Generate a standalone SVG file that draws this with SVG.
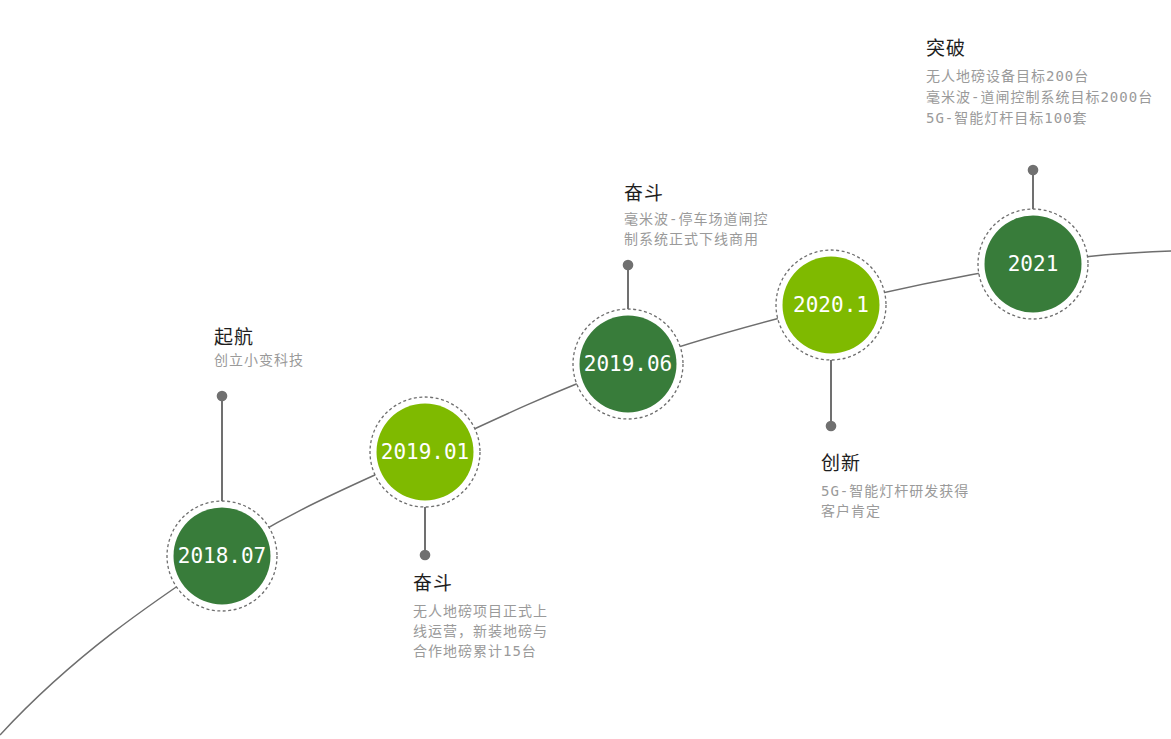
<svg xmlns="http://www.w3.org/2000/svg" width="1171" height="739" viewBox="0 0 1171 739">
<style>
.curve{fill:none;stroke:#6e6e6e;stroke-width:1.5}
.stem{stroke:#707070;stroke-width:2}
.dot{fill:#707070}
.ring{fill:#fff;stroke:#6e6e6e;stroke-width:1.3;stroke-dasharray:3 2.5}
.dark{fill:#387c3a}
.light{fill:#7fba00}
.lbl{font-family:"DejaVu Sans Mono","Liberation Mono",monospace;font-size:21px;fill:#fff;text-anchor:middle}
.ttl{font-family:"DejaVu Sans Mono","Noto Sans CJK SC",sans-serif;font-size:19px;fill:#1e1e1e;letter-spacing:1px}
.txt{font-family:"DejaVu Sans Mono","Noto Sans CJK SC",sans-serif;font-size:14px;fill:#9a9a9a;letter-spacing:1px}
</style>
<rect width="1171" height="739" fill="#fff"/>
<g id="connectors">
<path class="curve" d="M0,735 C74,655 151.2,603.2 222,556 C292.8,508.8 357.3,484 425,452 C492.7,420 560.3,388.5 628,364 C695.7,339.5 763.5,321.7 831,305 C898.5,288.3 976.3,273 1033,264 C1089.7,255 1125,252.7 1171,251"/>
<line class="stem" x1="222" y1="396" x2="222" y2="501"/>
<line class="stem" x1="425" y1="503" x2="425" y2="555"/>
<line class="stem" x1="628" y1="265" x2="628" y2="309"/>
<line class="stem" x1="831" y1="360" x2="831" y2="426"/>
<line class="stem" x1="1033" y1="170" x2="1033" y2="209"/>
<circle class="dot" cx="222" cy="396" r="5.3"/>
<circle class="dot" cx="425" cy="555" r="5.3"/>
<circle class="dot" cx="628" cy="265" r="5.3"/>
<circle class="dot" cx="831" cy="426" r="5.3"/>
<circle class="dot" cx="1033" cy="170" r="5.3"/>
</g>
<g id="node-2018">
<circle class="ring" cx="222" cy="556" r="55"/>
<circle class="dark" cx="222" cy="556" r="48.5"/>
<text class="lbl" x="222" y="563">2018.07</text>
<text class="ttl" x="214" y="344">起航</text>
<text class="txt" x="214" y="365">创立小变科技</text>
</g>
<g id="node-201901">
<circle class="ring" cx="425" cy="452" r="55"/>
<circle class="light" cx="425" cy="452" r="48.5"/>
<text class="lbl" x="425" y="459">2019.01</text>
<text class="ttl" x="413" y="590">奋斗</text>
<text class="txt" x="413" y="616">无人地磅项目正式上</text>
<text class="txt" x="413" y="636">线运营，新装地磅与</text>
<text class="txt" x="413" y="656">合作地磅累计15台</text>
</g>
<g id="node-201906">
<circle class="ring" cx="628" cy="364" r="55"/>
<circle class="dark" cx="628" cy="364" r="48.5"/>
<text class="lbl" x="628" y="371">2019.06</text>
<text class="ttl" x="624" y="200">奋斗</text>
<text class="txt" x="624" y="224">毫米波-停车场道闸控</text>
<text class="txt" x="624" y="244">制系统正式下线商用</text>
</g>
<g id="node-2020">
<circle class="ring" cx="831" cy="305" r="55"/>
<circle class="light" cx="831" cy="305" r="48.5"/>
<text class="lbl" x="831" y="312">2020.1</text>
<text class="ttl" x="821" y="470">创新</text>
<text class="txt" x="821" y="496">5G-智能灯杆研发获得</text>
<text class="txt" x="821" y="516">客户肯定</text>
</g>
<g id="node-2021">
<circle class="ring" cx="1033" cy="264" r="55"/>
<circle class="dark" cx="1033" cy="264" r="48.5"/>
<text class="lbl" x="1033" y="271">2021</text>
<text class="ttl" x="926" y="55">突破</text>
<text class="txt" x="926" y="81">无人地磅设备目标200台</text>
<text class="txt" x="926" y="102">毫米波-道闸控制系统目标2000台</text>
<text class="txt" x="926" y="123">5G-智能灯杆目标100套</text>
</g>
</svg>
